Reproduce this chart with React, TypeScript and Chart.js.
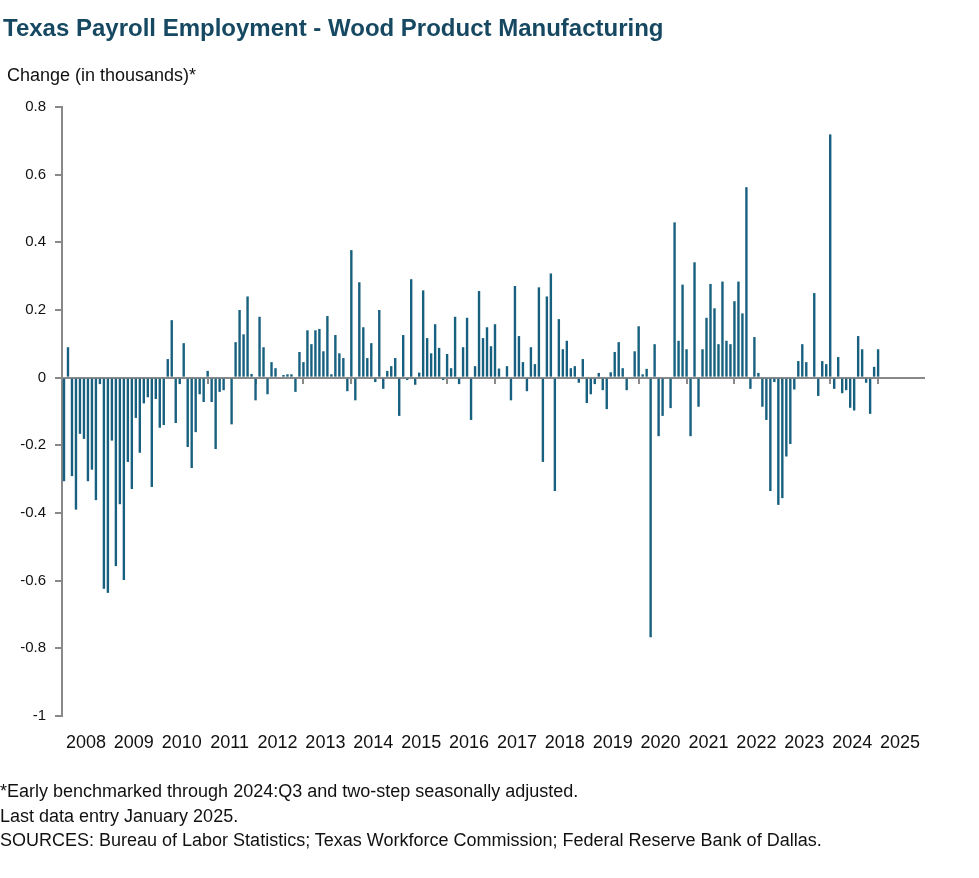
import React, { useEffect, useRef } from 'react';
import { Chart, registerables } from 'chart.js';

Chart.register(...registerables);

// ---- data (monthly change, thousands) ----
const yearLabels = ['2008', '2009', '2010', '2011', '2012', '2013', '2014', '2015', '2016', '2017', '2018', '2019', '2020', '2021', '2022', '2023', '2024', '2025'];
const v2008 = [-0.306, 0.09, -0.291, -0.39, -0.166, -0.181, -0.306, -0.272, -0.362, -0.019, -0.624, -0.636];
const v2009 = [-0.186, -0.557, -0.374, -0.598, -0.249, -0.329, -0.119, -0.222, -0.076, -0.058, -0.323, -0.063];
const v2010 = [-0.148, -0.14, 0.055, 0.17, -0.134, -0.019, 0.102, -0.205, -0.267, -0.161, -0.049, -0.072];
const v2011 = [0.02, -0.072, -0.211, -0.042, -0.037, 0, -0.138, 0.105, 0.2, 0.128, 0.24, 0.011];
const v2012 = [-0.067, 0.18, 0.09, -0.049, 0.046, 0.028, 0, 0.008, 0.01, 0.01, -0.042, 0.076];
const v2013 = [0.046, 0.14, 0.099, 0.14, 0.144, 0.078, 0.182, 0.01, 0.126, 0.072, 0.058, -0.04];
const v2014 = [0.377, -0.067, 0.282, 0.149, 0.058, 0.102, -0.013, 0.2, -0.033, 0.02, 0.034, 0.058];
const v2015 = [-0.113, 0.126, -0.007, 0.291, -0.021, 0.015, 0.258, 0.117, 0.072, 0.158, 0.088, -0.007];
const v2016 = [0.07, 0.028, 0.18, -0.019, 0.09, 0.177, -0.125, 0.034, 0.256, 0.117, 0.149, 0.093];
const v2017 = [0.158, 0.027, 0, 0.034, -0.067, 0.271, 0.123, 0.046, -0.04, 0.09, 0.04, 0.267];
const v2018 = [-0.249, 0.24, 0.308, -0.335, 0.173, 0.084, 0.109, 0.028, 0.034, -0.015, 0.055, -0.075];
const v2019 = [-0.049, -0.019, 0.014, -0.037, -0.093, 0.016, 0.076, 0.105, 0.028, -0.037, 0, 0.078];
const v2020 = [0.152, 0.01, 0.026, -0.767, 0.099, -0.173, -0.113, 0, -0.09, 0.459, 0.109, 0.275];
const v2021 = [0.084, -0.173, 0.341, -0.086, 0.084, 0.177, 0.277, 0.205, 0.099, 0.284, 0.109, 0.099];
const v2022 = [0.226, 0.284, 0.19, 0.563, -0.033, 0.12, 0.014, -0.086, -0.125, -0.335, -0.013, -0.376];
const v2023 = [-0.356, -0.233, -0.196, -0.035, 0.049, 0.099, 0.046, 0, 0.25, -0.054, 0.049, 0.04];
const v2024 = [0.719, -0.033, 0.061, -0.046, -0.037, -0.089, -0.097, 0.123, 0.084, -0.015, -0.107, 0.032];
const v2025 = [0.084];
const monthlyChange = [
  ...v2008, ...v2009, ...v2010, ...v2011, ...v2012, ...v2013, ...v2014, ...v2015, ...v2016,
  ...v2017, ...v2018, ...v2019, ...v2020, ...v2021, ...v2022, ...v2023, ...v2024, ...v2025,
];
const yTicks = [0.8, 0.6, 0.4, 0.2, 0, -0.2, -0.4, -0.6, -0.8, -1];

const TITLE = 'Texas Payroll Employment - Wood Product Manufacturing';
const Y_LABEL = 'Change (in thousands)*';
const NOTES = [
  '*Early benchmarked through 2024:Q3 and two-step seasonally adjusted.',
  'Last data entry January 2025.',
  'SOURCES: Bureau of Labor Statistics; Texas Workforce Commission; Federal Reserve Bank of Dallas.',
];

const BAR = '#17607f';
const AXIS = '#898989';
const SANS = "'Liberation Sans', Arial, sans-serif";
const MONTHS_SPAN = yearLabels.length * 12;

export default function App() {
  const ref = useRef<HTMLCanvasElement>(null);

  useEffect(() => {
    const points = monthlyChange.map((y, i) => ({ x: i, y }));
    const chart = new Chart(ref.current!, {
      type: 'bar',
      data: {
        datasets: [
          {
            data: points as any,
            backgroundColor: BAR,
            borderWidth: 0,
            barPercentage: 0.6,
            categoryPercentage: 1,
          },
        ],
      },
      options: {
        responsive: false,
        animation: false,
        layout: { padding: { top: 107, right: 55, bottom: 122, left: 0 } },
        plugins: { legend: { display: false }, tooltip: { enabled: false } },
        scales: {
          x: {
            type: 'linear',
            offset: false,
            min: -0.5,
            max: MONTHS_SPAN - 0.5,
            grid: { display: false, drawTicks: false, offset: false },
            border: { display: false },
            afterBuildTicks: (s: any) => {
              s.ticks = yearLabels.map((_, k) => ({ value: 12 * k + 5.5 }));
            },
            afterFit: (s: any) => {
              s.height = 40;
            },
            ticks: {
              autoSkip: false,
              maxRotation: 0,
              padding: 16,
              color: '#111',
              font: { family: SANS, size: 18 },
              callback: (v: any) => yearLabels[Math.round((Number(v) - 5.5) / 12)],
            },
          },
          x2: {
            type: 'linear',
            position: { y: 0 } as any,
            offset: false,
            z: 1,
            min: -0.5,
            max: MONTHS_SPAN - 0.5,
            afterBuildTicks: (s: any) => {
              s.ticks = yearLabels
                .map((_, k) => ({ value: 12 * k }))
                .filter((t) => t.value < monthlyChange.length);
            },
            afterFit: (s: any) => {
              s.height = 0;
            },
            ticks: { display: false },
            grid: { drawOnChartArea: false, drawTicks: true, tickLength: 5, color: AXIS, lineWidth: 2, offset: false },
            border: { display: true, color: AXIS, width: 2 },
          },
          y: {
            min: -1,
            max: 0.8,
            afterBuildTicks: (s: any) => {
              s.ticks = yTicks.map((v) => ({ value: v }));
            },
            afterFit: (s: any) => {
              s.width = 62;
            },
            ticks: {
              padding: 9,
              color: '#111',
              font: { family: SANS, size: 15 },
              callback: (v: any) => String(v),
            },
            grid: { drawOnChartArea: false, drawTicks: true, tickLength: 7, color: AXIS, lineWidth: 2 },
            border: { display: true, color: AXIS, width: 2 },
          },
        },
      } as any,
    });
    return () => chart.destroy();
  }, []);

  const text: React.CSSProperties = { position: 'absolute', whiteSpace: 'nowrap', lineHeight: 1, margin: 0 };

  return (
    <div style={{ position: 'absolute', left: 0, top: 0, width: 979, height: 878, background: '#fff', overflow: 'hidden' }}>
      <canvas ref={ref} width={979} height={878} style={{ position: 'absolute', left: 0, top: 0, width: 979, height: 878 }} />
      <div style={{ ...text, left: 3, top: 16, fontFamily: SANS, fontWeight: 700, fontSize: 24, color: '#164862' }}>{TITLE}</div>
      <div style={{ ...text, left: 7, top: 66, fontFamily: SANS, fontSize: 18, color: '#111' }}>{Y_LABEL}</div>
      {NOTES.map((n, i) => (
        <div key={i} style={{ ...text, left: 0, top: 782 + i * 24.5, fontFamily: SANS, fontSize: 18, color: '#111' }}>{n}</div>
      ))}
    </div>
  );
}
